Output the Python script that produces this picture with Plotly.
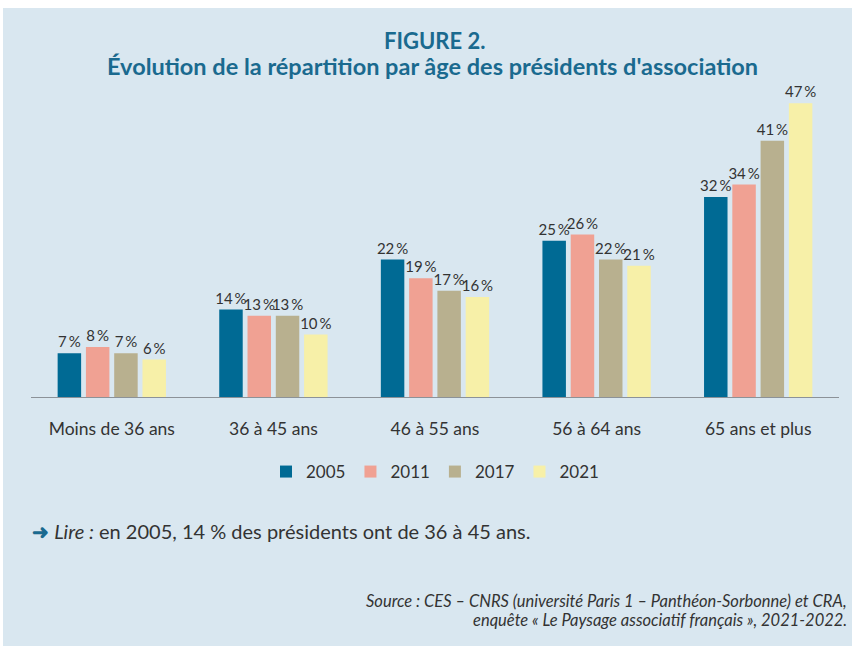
import plotly.graph_objects as go

categories = ["Moins de 36 ans", "36 à 45 ans", "46 à 55 ans", "56 à 64 ans", "65 ans et plus"]
years = ["2005", "2011", "2017", "2021"]
v2005 = [7, 14, 22, 25, 32]
v2011 = [8, 13, 19, 26, 34]
v2017 = [7, 13, 17, 22, 41]
v2021 = [6, 10, 16, 21, 47]
series = [v2005, v2011, v2017, v2021]
colors = ["#006a94", "#f0a193", "#b8b08f", "#f7f0a8"]

BG = "#d9e7f0"
FONT = "Lato"

fig = go.Figure()
for yr, vals, col in zip(years, series, colors):
    fig.add_trace(go.Bar(
        x=categories, y=vals, name=yr, marker=dict(color=col, line=dict(width=0)),
        texttemplate="%{y}\u2009%", textposition="outside", cliponaxis=False,
        constraintext="none",
        textfont=dict(family=FONT, size=15, color="#333333"),
    ))

# page offset of the figure (body padding) and figure size
OX, OY = 3, 8
W, H = 849, 638
L, R, T, B = 28, 13, 89, 249
PH = H - T - B
PW = W - L - R

def py(p):
    # page pixel y -> paper y
    return ((H - B) - (p - OY)) / PH

def px(p):
    # page pixel x -> paper x
    return ((p - OX) - L) / PW

fig.update_layout(
    width=W, height=H, autosize=False,
    margin=dict(l=L, r=R, t=T, b=B),
    paper_bgcolor=BG, plot_bgcolor=BG,
    barmode="group", bargap=0.3, bargroupgap=0.17,
    font=dict(family=FONT, color="#333333"),
    showlegend=True,
    legend=dict(orientation="h", x=0.5, xanchor="center", y=py(472), yanchor="middle",
                font=dict(family=FONT, size=17, color="#333333"), bgcolor="rgba(0,0,0,0)",
                itemwidth=30, traceorder="normal"),
    xaxis=dict(showline=True, linecolor="#8c9298", linewidth=1, showgrid=False,
               ticks="", tickfont=dict(family=FONT, size=17.5, color="#333333"),
               ticklabelstandoff=16, fixedrange=True),
    yaxis=dict(range=[0, 48], visible=False, showgrid=False, zeroline=False, fixedrange=True),
    annotations=[
        dict(text="<b>FIGURE 2.</b>", xref="paper", yref="paper", x=px(434), y=py(40),
             xanchor="center", yanchor="middle", showarrow=False,
             font=dict(family=FONT, size=22, color="#1a6a8f")),
        dict(text="<b>Évolution de la répartition par âge des présidents d'association</b>",
             xref="paper", yref="paper", x=px(432), y=py(66),
             xanchor="center", yanchor="middle", showarrow=False,
             font=dict(family=FONT, size=23.5, color="#1a6a8f")),
        dict(text="<span style='color:#1a6a8f'><b>➜</b></span> <i>Lire :</i> en 2005, 14 % des présidents ont de 36 à 45 ans.",
             xref="paper", yref="paper", x=px(30), y=py(531),
             xanchor="left", yanchor="middle", showarrow=False,
             font=dict(family=FONT, size=20, color="#333333")),
        dict(text="<i>Source : CES – CNRS (université Paris 1 – Panthéon-Sorbonne) et CRA,</i>",
             xref="paper", yref="paper", x=px(849), y=py(601),
             xanchor="right", yanchor="middle", showarrow=False,
             font=dict(family=FONT, size=16.5, color="#333333")),
        dict(text="<i>enquête « Le Paysage associatif français », 2021-2022.</i>",
             xref="paper", yref="paper", x=px(849), y=py(620),
             xanchor="right", yanchor="middle", showarrow=False,
             font=dict(family=FONT, size=16.5, color="#333333")),
    ],
)

fig.write_html(
    "out.html",
    post_script="document.body.style.margin='0';document.body.style.padding='8px 0 0 3px';"
                "document.body.style.overflow='hidden';",
)
